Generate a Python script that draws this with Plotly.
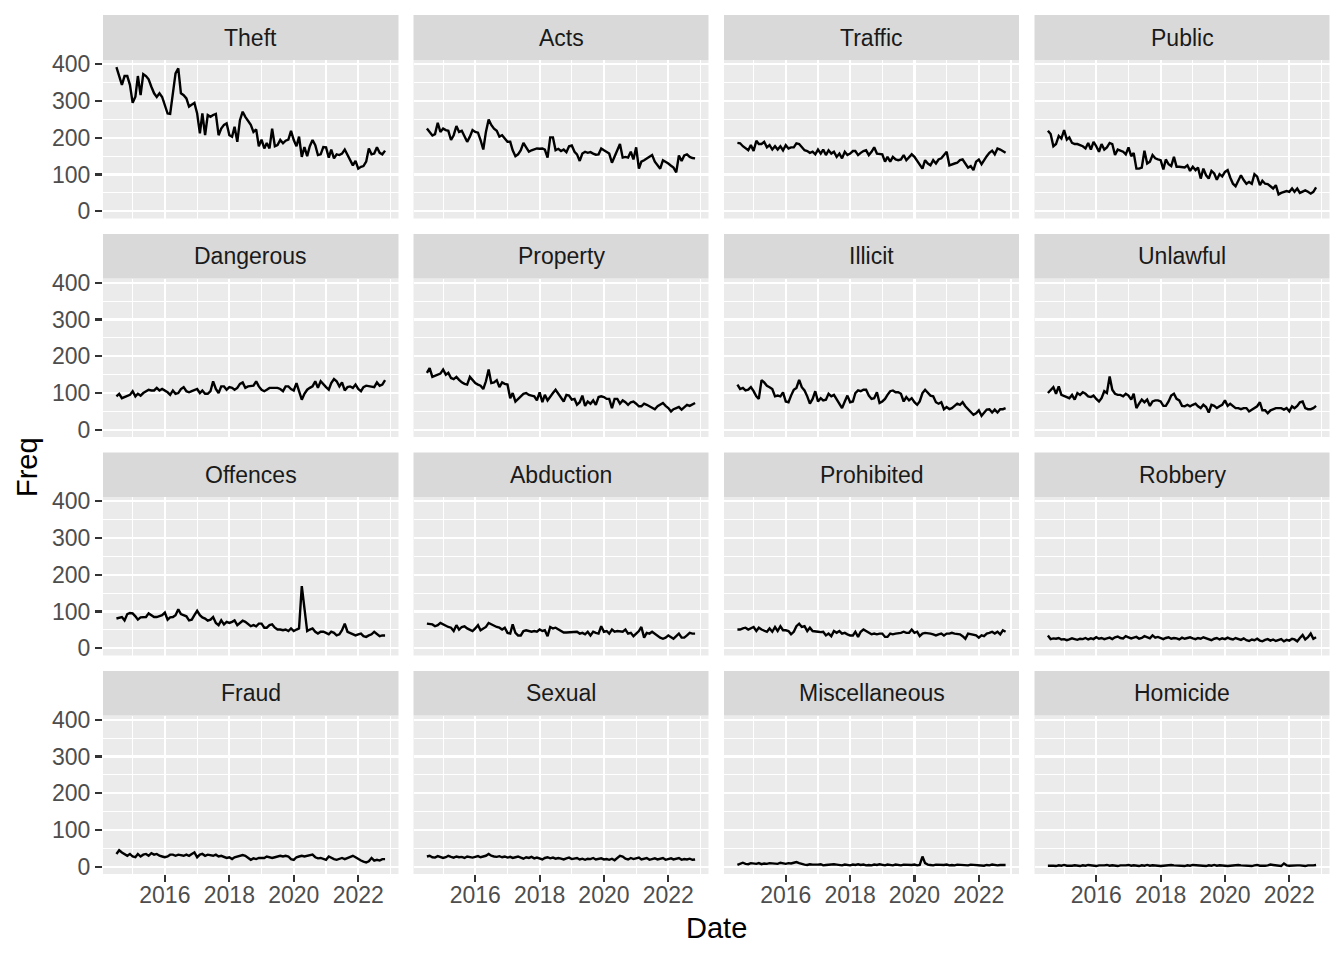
import plotly.graph_objects as go
import pandas as pd

# ---------------- data ----------------
start_month = "2014-07-01"
n_months = 101
months = pd.date_range(start_month, periods=n_months, freq="MS")

categories = ["Theft", "Acts", "Traffic", "Public",
              "Dangerous", "Property", "Illicit", "Unlawful",
              "Offences", "Abduction", "Prohibited", "Robbery",
              "Fraud", "Sexual", "Miscellaneous", "Homicide"]

theft = [392, 366, 344, 368, 368, 344, 295, 312, 368, 316,
         373, 368, 359, 339, 321, 311, 321, 311, 289, 266,
         265, 321, 375, 389, 321, 316, 307, 285, 289, 295,
         266, 212, 266, 207, 262, 257, 262, 265, 207, 225,
         235, 239, 207, 203, 230, 189, 248, 271, 257, 244,
         235, 216, 223, 177, 195, 171, 186, 171, 225, 177,
         180, 194, 185, 192, 195, 219, 194, 177, 203, 148,
         175, 150, 177, 194, 180, 153, 155, 175, 174, 146,
         168, 144, 155, 153, 157, 168, 153, 139, 125, 137,
         116, 121, 123, 135, 171, 155, 157, 174, 159, 155, 165]

acts = [225, 214, 206, 210, 241, 216, 225, 221, 219, 194,
        207, 232, 216, 219, 205, 189, 203,
        221, 216, 214, 194, 168, 216, 250, 235, 225, 219, 203, 207, 198,
        189, 189, 166, 150, 155,
        166, 186, 174, 162, 166, 168, 171, 170, 171, 168, 146, 201, 201, 166, 170,
        164, 168, 161, 177, 179, 162, 155, 137, 157, 162,
        159, 161, 157, 154, 155, 171, 166, 162, 157, 132,
        148, 168, 183, 146, 148, 146, 162, 141, 174, 116,
        135, 139, 144, 150, 153, 135, 125, 116, 139, 135,
        130, 124, 119, 106, 152, 137, 152, 155, 148, 145, 144]

traffic = [186, 185, 177, 171, 166, 180, 164, 192, 183, 183,
           189, 174, 180, 168, 177, 168, 177, 166, 180, 171,
           174, 174, 185, 183, 175, 166, 164, 159, 162, 155,
           168, 157, 168, 153, 166, 157, 162, 148, 157, 144,
           162, 153, 157, 164, 164, 153,
           159, 164, 166, 153, 162, 174, 157, 157, 155, 135, 148, 135, 148, 141, 139, 141, 153, 139, 146, 155, 148, 137,
           130, 116, 139, 130, 125, 139, 130, 141, 144, 153, 162, 125, 128, 130, 132, 139, 141, 130, 119, 123, 112,
           135, 141, 128, 139, 150, 159, 165, 155, 171, 168, 164, 159]

public = [219, 210, 177, 183, 205, 198, 221, 195, 201, 186,
          183, 183, 180, 177, 171, 186, 168, 189, 177, 162,
          183, 168, 174, 186, 183, 153, 168, 164, 162, 155,
          174, 150, 159, 116, 116, 119, 165, 130, 135, 153,
          144, 141, 139, 114, 141, 128, 123, 148, 121, 121,
          121, 119, 125, 110, 121, 112, 119, 89, 116, 98,
          89, 110, 103, 86, 101, 95, 107, 112, 92, 75,
          68, 83, 98, 85, 75, 80, 75, 101, 94, 71,
          83, 75, 74, 68, 62, 71, 46, 50, 53, 55,
          53, 62, 53, 62, 50, 53, 57, 53, 48, 53, 65]

dangerous = [91, 98, 86, 89, 93, 95, 105, 91, 98, 93,
             100, 105, 109, 107, 107, 114, 107, 111, 107, 102,
             95, 107, 98, 100, 111, 116, 105, 102, 105, 109,
             111, 100, 107, 98, 98, 105, 132, 111, 100, 118,
             118, 109, 116, 114, 109, 114, 125, 129, 114, 118,
             118, 120, 132, 118, 109, 105, 109, 114, 114, 114,
             114, 111, 105, 118, 118, 111, 107, 127, 105, 82,
             98, 109, 114, 118, 132, 114, 132, 123, 116, 109,
             127, 138, 132, 118, 129, 107, 116, 118, 114, 123,
             111, 105, 116, 120, 118, 118, 116, 129, 120, 123, 135]

property_ = [155, 168, 144, 147, 150, 153, 164, 150, 155, 141,
             138, 144, 136, 129, 125, 123, 144, 135, 127, 123,
             120, 111, 132, 164, 127, 129, 135, 116, 129, 125,
             123, 86, 100, 77, 84, 91, 98, 100, 95, 93,
             91, 80, 102, 75, 95, 80, 91, 100, 109, 98,
             89, 77, 95, 93, 82, 84, 68, 75, 93, 65,
             77, 71, 80, 68, 89, 91, 89, 84, 84, 59,
             84, 84, 71, 80, 75, 68, 75, 77, 71, 64,
             64, 71, 68, 64, 59, 56, 64, 68, 73, 65,
             59, 50, 56, 59, 62, 55, 62, 68, 65, 68, 73]

illicit = [123, 111, 114, 107, 109, 116, 105, 91, 84, 135,
           129, 120, 116, 111, 91, 93, 91, 102, 77, 75,
           93, 109, 114, 136, 116, 107, 91, 71, 84, 105,
           77, 86, 80, 82, 98, 91, 95, 82, 73, 59,
           77, 93, 75, 77, 100, 107, 105, 109, 109, 93,
           84, 86, 102, 73, 77, 84, 95, 105, 107, 102,
           102, 98, 77, 89, 80, 86, 75, 68, 77, 100,
           109, 100, 93, 91, 75, 71, 75, 56, 62, 56,
           59, 65, 71, 68, 75, 64, 56, 50, 41, 45,
           53, 38, 45, 55, 56, 47, 55, 47, 56, 56, 59]

unlawful = [100, 109, 116, 98, 118, 95, 91, 89, 86, 95,
            82, 100, 95, 102, 98, 91, 89, 93, 84, 77,
            86, 105, 100, 145, 109, 98, 95, 95, 91, 98,
            93, 82, 98, 59, 71, 82, 75, 82, 65, 77,
            80, 80, 77, 65, 65, 77, 93, 98, 84, 80,
            65, 64, 68, 64, 68, 71, 64, 59, 68, 62,
            47, 68, 65, 59, 64, 68, 80, 65, 71, 65,
            59, 59, 56, 59, 59, 50, 55, 59, 64, 75,
            53, 53, 45, 53, 56, 59, 59, 59, 55, 59,
            50, 64, 59, 65, 75, 77, 59, 56, 56, 59, 65]

offences = [81, 84, 85, 76, 93, 96, 95, 87, 78, 84,
            85, 85, 95, 90, 85, 85, 87, 90, 97, 78,
            84, 85, 90, 106, 93, 90, 87, 76, 78, 90,
            102, 90, 84, 81, 75, 78, 85, 69, 63, 76,
            65, 72, 69, 72, 76, 63, 69, 75, 72, 65,
            60, 63, 60, 67, 67, 56, 56, 63, 65, 56,
            51, 51, 49, 51, 47, 54, 47, 51, 54, 169,
            104, 47, 51, 54, 45, 40, 45, 45, 42, 38,
            45, 42, 35, 38, 49, 67, 45, 42, 38, 35,
            38, 40, 33, 31, 35, 38, 45, 40, 33, 35, 35]

abduction = [67, 67, 65, 60, 63, 69, 65, 63, 58, 56,
             47, 63, 51, 58, 60, 54, 51, 47, 54, 63,
             49, 54, 58, 69, 65, 63, 58, 56, 51, 56,
             42, 40, 65, 42, 35, 35, 47, 49, 47, 45,
             47, 45, 51, 47, 49, 33, 58, 54, 56, 51,
             47, 43, 43, 43, 44, 45, 45, 40, 42, 38,
             45, 35, 45, 42, 40, 60, 45, 47, 40, 51,
             45, 47, 45, 45, 51, 40, 42, 33, 40, 47,
             58, 29, 42, 40, 45, 40, 33, 29, 26, 29,
             35, 31, 26, 33, 40, 29, 29, 35, 42, 40, 40]

prohibited = [51, 51, 54, 56, 51, 54, 58, 47, 56, 51,
              47, 45, 54, 45, 58, 47, 60, 49, 49, 47,
              38, 45, 60, 67, 58, 60, 47, 56, 47, 47,
              45, 44, 45, 35, 40, 33, 47, 42, 47, 40,
              42, 38, 35, 35, 45, 31, 45, 51, 47, 44,
              38, 40, 38, 40, 40, 31, 31, 40, 38, 40,
              40, 42, 45, 42, 42, 51, 42, 45, 33, 40,
              42, 42, 40, 38, 35, 38, 40, 35, 40, 40,
              42, 40, 38, 38, 33, 26, 40, 38, 38, 35,
              29, 35, 33, 40, 42, 45, 40, 45, 38, 49, 45]

robbery = [35, 25, 27, 26, 28, 24, 25, 22, 24, 27,
           25, 23, 26, 25, 28, 24, 27, 25, 30, 26,
           28, 25, 27, 29, 25, 30, 32, 28, 27, 33,
           30, 27, 29, 31, 26, 28, 33, 30, 27, 35,
           29, 31, 27, 25, 28, 30, 26, 28, 27, 24,
           29, 26, 28, 30, 27, 25, 28, 26, 30, 27,
           25, 22, 26, 28, 24, 27, 25, 29, 26, 24,
           28, 25, 23, 27, 22, 20, 24, 22, 26, 21,
           19, 23, 25, 21, 24, 20, 22, 25, 19, 23,
           21, 26, 24, 19, 28, 36, 24, 30, 40, 26, 30]

fraud = [35, 45, 39, 35, 30, 35, 28, 26, 35, 28,
         33, 35, 30, 37, 33, 35, 30, 28, 26, 28,
         33, 33, 30, 33, 32, 30, 33, 30, 35, 39,
         26, 33, 35, 30, 33, 32, 30, 33, 28, 30,
         28, 24, 26, 21, 26, 28, 28, 32, 30, 24,
         19, 23, 21, 24, 24, 24, 28, 26, 24, 26,
         28, 30, 28, 30, 28, 21, 19, 26, 28, 30,
         28, 30, 31, 33, 26, 23, 24, 21, 19, 28,
         24, 21, 19, 21, 24, 21, 24, 28, 30, 26,
         21, 17, 14, 12, 15, 24, 17, 19, 17, 21, 21]

sexual = [28, 30, 26, 25, 29, 27, 24, 26, 30, 27,
          25, 28, 26, 27, 24, 28, 26, 25, 27, 29,
          26, 28, 30, 35, 30, 28, 27, 29, 26, 28,
          25, 27, 24, 26, 28, 25, 22, 26, 24, 27,
          23, 25, 22, 20, 24, 26, 23, 25, 22, 24,
          22, 20, 23, 25, 21, 22, 24, 20, 22, 19,
          22, 21, 24, 20, 22, 23, 20, 21, 19, 22,
          18, 25, 30, 28, 22, 20, 24, 21, 23, 25,
          20, 22, 24, 19, 21, 23, 20, 22, 24, 19,
          21, 23, 20, 22, 24, 19, 21, 20, 22, 19, 20]

miscellaneous = [5, 9, 11, 8, 7, 10, 9, 8, 10, 7,
                 9, 8, 10, 9, 7, 8, 11, 9, 8, 10,
                 9, 11, 13, 10, 7, 6, 5, 7, 6, 5,
                 6, 7, 4, 5, 6, 5, 7, 6, 5, 4,
                 6, 5, 4, 6, 5, 7, 5, 6, 4, 5,
                 4, 6, 5, 7, 5, 4, 6, 5, 4, 6,
                 5, 4, 6, 5, 4, 5, 6, 4, 5, 28,
                 10, 6, 5, 4, 6, 5, 4, 5, 6, 4,
                 5, 4, 6, 5, 4, 5, 4, 6, 5, 4,
                 5, 4, 3, 5, 4, 6, 5, 4, 5, 4, 5]

homicide = [3, 4, 3, 2, 4, 3, 5, 3, 4, 3,
            4, 3, 2, 4, 3, 5, 4, 3, 2, 4,
            3, 4, 5, 3, 4, 3, 2, 4, 3, 4,
            5, 3, 4, 3, 2, 4, 3, 5, 3, 4,
            3, 4, 2, 3, 4, 3, 5, 4, 3, 4,
            3, 2, 4, 3, 5, 4, 3, 4, 3, 2,
            4, 3, 5, 3, 4, 3, 4, 2, 3, 4,
            3, 5, 4, 3, 4, 3, 2, 4, 5, 3,
            4, 3, 4, 6, 5, 4, 3, 2, 9, 4,
            3, 4, 3, 4, 4, 3, 2, 4, 3, 4, 5]

freq_by_category = {
    "Theft": theft, "Acts": acts, "Traffic": traffic, "Public": public,
    "Dangerous": dangerous, "Property": property_, "Illicit": illicit, "Unlawful": unlawful,
    "Offences": offences, "Abduction": abduction, "Prohibited": prohibited, "Robbery": robbery,
    "Fraud": fraud, "Sexual": sexual, "Miscellaneous": miscellaneous, "Homicide": homicide,
}

y_major_ticks = [0, 100, 200, 300, 400]
y_minor_ticks = [50, 150, 250, 350]
x_major_ticks = ["2016-01-01", "2018-01-01", "2020-01-01", "2022-01-01"]
x_major_labels = ["2016", "2018", "2020", "2022"]
x_minor_ticks = ["2015-01-01", "2017-01-01", "2019-01-01", "2021-01-01", "2023-01-01"]

# ---------------- layout geometry (pixels) ----------------
W, H = 1344, 960
cols_px = [(103, 398.5), (413.5, 708.5), (724, 1019), (1034.5, 1329.5)]
strips_px = [(15, 60), (234, 278.5), (452.5, 497), (671, 715.5)]
panels_px = [(60, 218.5), (278.5, 437), (497, 655.5), (715.5, 874)]

FONT = "Liberation Sans, Arial, Helvetica, sans-serif"

# ggplot-style 5% expansion of the scales
span = months[-1] - months[0]
x_range = [months[0] - span * 0.05, months[-1] + span * 0.05]
all_vals = [v for s in freq_by_category.values() for v in s]
ylo, yhi = min(min(all_vals), 0), max(all_vals)
ypad = (yhi - ylo) * 0.05
y_range = [ylo - ypad, yhi + ypad]

fig = go.Figure()
layout = {}
shapes = []
annotations = []

for k, cat in enumerate(categories):
    r, c = divmod(k, 4)
    suffix = "" if k == 0 else str(k + 1)
    fig.add_trace(go.Scatter(
        x=months, y=freq_by_category[cat], mode="lines",
        line=dict(color="black", width=2.4),
        xaxis="x" + suffix, yaxis="y" + suffix,
        showlegend=False, name=cat,
    ))
    x0, x1 = cols_px[c]
    p0, p1 = panels_px[r]
    s0, s1 = strips_px[r]
    bottom = (r == 3)
    left = (c == 0)
    layout["xaxis" + suffix] = dict(
        domain=[x0 / W, x1 / W], anchor="y" + suffix, type="date",
        range=x_range, tickmode="array", tickvals=x_major_ticks, ticktext=x_major_labels,
        showticklabels=bottom, ticks="outside" if bottom else "",
        ticklen=7, tickwidth=2.2, tickcolor="#333333", ticklabelstandoff=-7,
        tickfont=dict(family=FONT, size=23, color="#4D4D4D"),
        showgrid=True, gridcolor="white", gridwidth=2.2,
        zeroline=False, showline=False, fixedrange=True, automargin=False,
        minor=dict(tickmode="array", tickvals=x_minor_ticks, showgrid=True,
                   gridcolor="white", gridwidth=1.1, ticks=""),
    )
    layout["yaxis" + suffix] = dict(
        domain=[1 - p1 / H, 1 - p0 / H], anchor="x" + suffix,
        range=y_range, tickmode="array", tickvals=y_major_ticks,
        showticklabels=left, ticks="outside" if left else "",
        ticklen=7, tickwidth=2.2, tickcolor="#333333",
        tickfont=dict(family=FONT, size=23, color="#4D4D4D"),
        showgrid=True, gridcolor="white", gridwidth=2.2,
        zeroline=False, showline=False, fixedrange=True, automargin=False,
        minor=dict(tickmode="array", tickvals=y_minor_ticks, showgrid=True,
                   gridcolor="white", gridwidth=1.1, ticks=""),
    )
    shapes.append(dict(type="rect", xref="paper", yref="paper",
                       x0=x0 / W, x1=x1 / W, y0=1 - s1 / H, y1=1 - s0 / H,
                       fillcolor="#D9D9D9", line=dict(width=0), layer="below"))
    annotations.append(dict(text=cat, xref="paper", yref="paper",
                            x=(x0 + x1) / 2 / W, y=1 - (s0 + s1) / 2 / H,
                            xanchor="center", yanchor="middle", showarrow=False,
                            font=dict(family=FONT, size=23, color="#1A1A1A")))

annotations.append(dict(text="Date", xref="paper", yref="paper",
                        x=(103 + 1329.5) / 2 / W, y=1 - 928 / H,
                        xanchor="center", yanchor="middle", showarrow=False,
                        font=dict(family=FONT, size=29, color="black")))
annotations.append(dict(text="Freq", xref="paper", yref="paper",
                        x=27 / W, y=1 - 467 / H, textangle=-90,
                        xanchor="center", yanchor="middle", showarrow=False,
                        font=dict(family=FONT, size=29, color="black")))

fig.update_layout(
    width=W, height=H, autosize=False,
    margin=dict(l=0, r=0, t=0, b=0, pad=0, autoexpand=False),
    paper_bgcolor="white", plot_bgcolor="#EBEBEB",
    font=dict(family=FONT),
    shapes=shapes, annotations=annotations,
    **layout,
)

fig.write_html(
    "out.html",
    config={"displayModeBar": False, "staticPlot": True},
    post_script="document.body.style.margin='0px';document.body.style.overflow='hidden';",
)
